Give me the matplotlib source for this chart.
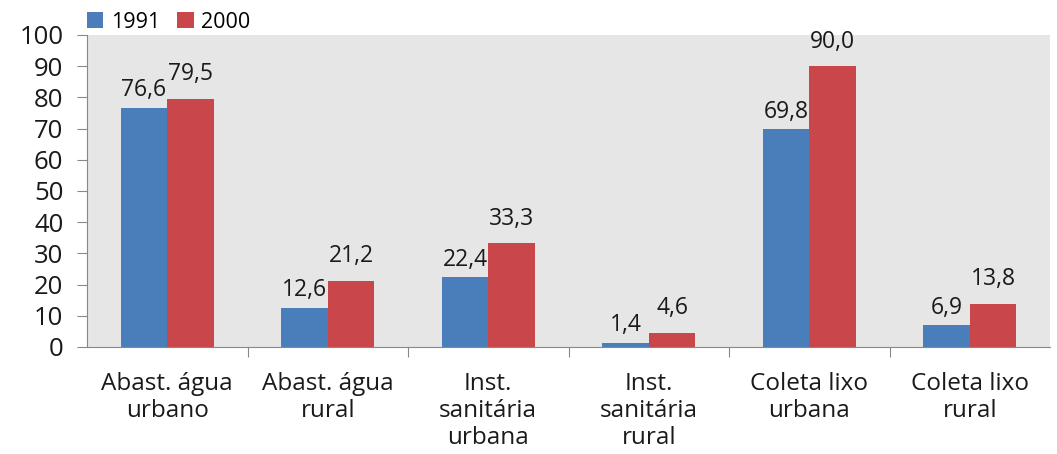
import numpy as np
import matplotlib.pyplot as plt

categories = ["Abast. água\nurbano", "Abast. água\nrural", "Inst.\nsanitária\nurbana",
              "Inst.\nsanitária\nrural", "Coleta lixo\nurbana", "Coleta lixo\nrural"]
v1991 = [76.6, 12.6, 22.4, 1.4, 69.8, 6.9]
v2000 = [79.5, 21.2, 33.3, 4.6, 90.0, 13.8]
years = ["1991", "2000"]

plt.rcParams['font.family'] = ['Open Sans', 'DejaVu Sans']

fig = plt.figure(figsize=(10.57, 4.54), dpi=100)
ax = fig.add_axes([87 / 1057, 1 - 347 / 454, (1050 - 87) / 1057, (347 - 35) / 454])
ax.set_facecolor('#e6e6e6')

x = np.arange(len(categories))
w = 0.29
ax.bar(x - w / 2, v1991, w, color='#4a7ebb', label=years[0])
ax.bar(x + w / 2, v2000, w, color='#c9474a', label=years[1])

fmt = lambda v: f"{v:.1f}".replace('.', ',')
for xi, v in zip(x, v1991):
    ax.annotate(fmt(v), (xi - w / 2, v), xytext=(0, 4), textcoords='offset points',
                ha='center', va='bottom', fontsize=16.5, color='#1a1a1a')
for xi, v in zip(x, v2000):
    ax.annotate(fmt(v), (xi + w / 2, v), xytext=(0, 9), textcoords='offset points',
                ha='center', va='bottom', fontsize=16.5, color='#1a1a1a')

ax.set_xlim(-0.5, len(categories) - 0.5)
ax.set_ylim(0, 100)
ax.set_yticks(np.arange(0, 101, 10))
ax.tick_params(axis='y', labelsize=18.5, direction='out', length=7, color='#888888',
               labelcolor='#1a1a1a', pad=10)
ax.set_xticks(np.arange(0.5, len(categories) - 0.5, 1), minor=False)
ax.set_xticklabels([])
ax.set_xticks(x, minor=True)
ax.set_xticklabels(categories, minor=True, fontsize=17.5, color='#1a1a1a', linespacing=1.18)
ax.tick_params(axis='x', which='major', direction='out', length=7, color='#888888')
ax.tick_params(axis='x', which='minor', length=0, pad=18)

for s in ['top', 'right']:
    ax.spines[s].set_visible(False)
for s in ['left', 'bottom']:
    ax.spines[s].set_color('#888888')

ax.legend(loc='lower left', bbox_to_anchor=(-0.002, 1.0), ncol=2, frameon=False,
          fontsize=15.5, handlelength=0.75, handleheight=0.75, handletextpad=0.35,
          columnspacing=0.8, borderpad=0.0, borderaxespad=0.1)

fig.savefig('out.png', dpi=100)
